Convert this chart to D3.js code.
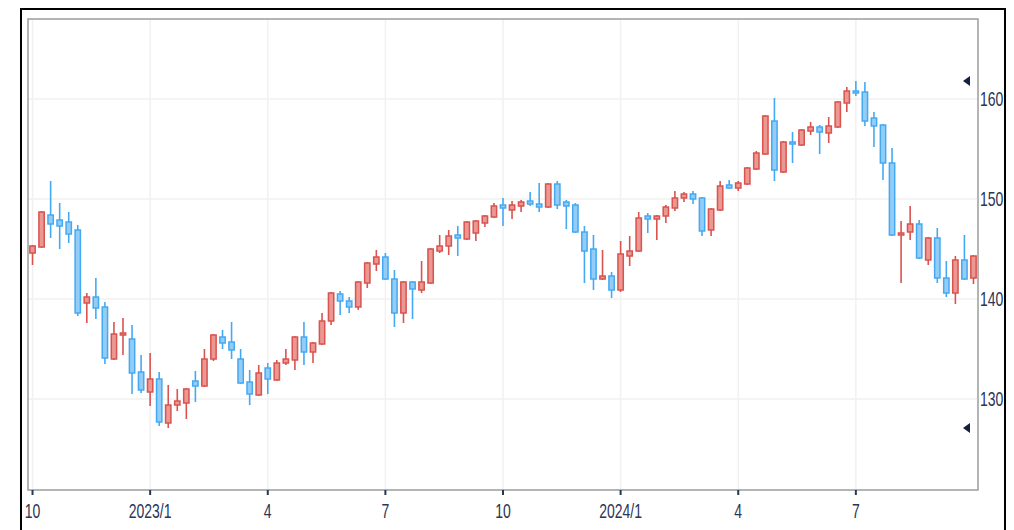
<!DOCTYPE html>
<html>
<head>
<meta charset="utf-8">
<script src="https://cdn.jsdelivr.net/npm/d3@7"></script>
<style>
  body { margin: 0; background: #fff; }
  svg { display: block; }
</style>
</head>
<body>
<div id="chart"></div>
<script>
// weekly candles, Monday of each week
const firstWeek = new Date(2022, 9, 3);
const afterLast = new Date(2024, 9, 1);

const openVals = [144.6,145.2,148.4,147.9,147.7,146.9,139.6,140.2,139.2,134.0,136.4,136.0,132.7,130.7,132.0,127.6,129.4,129.6,131.8,131.3,
  134.0,136.2,135.7,134.0,131.7,130.4,133.1,131.9,133.6,133.9,136.2,134.7,135.5,137.8,140.5,139.8,139.2,141.6,143.5,144.2,
  142.0,138.6,141.7,140.9,141.6,144.8,145.3,146.4,146.0,146.6,147.6,148.2,149.4,148.9,149.3,149.8,149.5,149.2,151.5,149.7,
  149.4,146.7,145.0,142.0,142.3,140.9,144.3,144.8,148.3,148.0,148.3,149.1,150.1,150.5,150.1,146.9,148.9,151.4,151.1,151.5,
  153.0,154.5,157.8,152.7,155.7,155.4,156.8,157.2,156.6,157.2,159.6,160.8,160.7,158.1,157.4,153.6,146.4,146.7,147.5,143.9,
  146.1,142.1,140.6,143.9,142.1];
const highVals = [145.4,148.8,151.8,149.6,148.7,147.4,140.6,142.1,139.7,137.7,138.1,137.4,134.4,134.6,132.7,131.4,131.0,131.1,132.8,135.0,
  136.5,136.9,137.7,135.0,132.9,133.4,133.6,133.9,135.0,136.3,137.7,135.7,138.6,140.7,140.8,140.2,141.8,143.7,144.9,144.6,
  142.9,141.8,141.8,143.8,145.1,146.4,146.9,147.3,147.8,147.9,148.4,149.6,150.1,149.8,149.9,150.7,151.6,151.6,151.8,149.9,
  149.6,147.3,146.4,144.9,142.7,145.8,146.3,148.7,148.6,148.4,149.4,150.8,150.7,150.8,150.2,149.1,151.8,151.9,151.8,153.2,
  154.8,158.4,160.1,155.8,156.7,157.0,157.7,157.4,158.2,159.8,161.2,161.8,161.7,158.7,157.5,155.1,147.8,149.3,147.9,146.2,
  147.1,143.8,144.3,146.4,144.4];
const lowVals = [143.4,145.1,146.1,145.0,145.6,138.3,137.6,138.0,133.5,133.9,134.4,130.5,130.6,129.3,127.3,127.1,128.8,128.0,129.7,131.2,
  133.8,135.0,134.0,131.5,129.4,130.3,130.5,131.8,133.4,132.9,133.4,133.6,135.4,137.4,138.4,138.6,138.9,141.1,142.8,141.9,
  137.2,137.6,138.0,140.6,141.5,144.6,144.4,144.3,145.9,145.8,147.2,148.1,147.3,148.0,148.7,149.3,148.7,149.1,149.0,147.0,
  146.6,141.6,140.9,141.9,140.1,140.7,143.3,144.7,146.6,145.9,147.6,148.8,149.7,149.5,146.3,146.3,148.8,151.0,150.8,151.4,
  152.9,154.4,151.8,152.6,153.6,155.3,156.4,154.5,155.6,157.1,158.7,160.3,157.3,155.2,151.9,146.3,141.6,145.9,144.0,143.4,
  141.6,140.2,139.5,141.9,141.5];
const closeVals = [145.3,148.7,147.5,147.3,146.5,138.6,140.2,139.1,134.1,136.5,136.6,132.6,130.9,132.0,127.7,129.4,129.8,131.0,131.3,134.0,
  136.4,135.6,134.9,131.6,130.5,132.6,132.0,133.6,134.0,136.2,134.7,135.6,137.8,140.6,139.8,139.2,141.7,143.6,144.2,142.0,
  138.6,141.7,141.0,141.7,145.0,145.3,146.3,146.1,147.7,147.8,148.3,149.3,149.1,149.4,149.7,149.5,149.2,151.5,149.4,149.3,
  146.7,144.8,142.0,142.3,140.9,144.5,144.8,148.1,148.0,148.3,149.2,150.1,150.5,150.0,146.8,149.0,151.3,151.1,151.6,153.1,
  154.6,158.3,152.9,155.7,155.5,156.9,157.2,156.7,157.3,159.7,160.8,160.6,157.8,157.3,153.6,146.4,146.6,147.5,144.1,146.1,
  142.1,140.6,143.9,142.0,144.3];

const yTicks = [130, 140, 150, 160];
const tickMonths = [0, 3, 6, 9];
const tickLabels = ["10", "2023/1", "4", "7", "10", "2024/1", "4", "7"];

const W = 1014, H = 530;
const plot = { left: 28, top: 19, right: 978, bottom: 490 };
const upStroke = "#d9534f", upFill = "#eb9792";
const downStroke = "#44a9f3", downFill = "#93cdf6";
const textColor = "#2b3556";

const weeks = d3.timeMonday.range(firstWeek, afterLast);
const candles = weeks.map((d, i) => ({
  date: d, open: openVals[i], high: highVals[i], low: lowVals[i], close: closeVals[i]
}));

const x = d3.scaleBand()
  .domain(weeks)
  .range([plot.left, plot.right])
  .paddingInner(0.3)
  .paddingOuter(0.15);
const cx = d => x(d) + x.bandwidth() / 2;

const y = d3.scaleLinear().domain([121, 168]).range([489, plot.top]);

const svg = d3.select("#chart").append("svg")
  .attr("width", W).attr("height", H)
  .style("font-family", "'Liberation Sans', Arial, sans-serif");

// first candle of each quarter month
const monthTicks = weeks.filter((d, i) =>
  tickMonths.includes(d.getMonth()) && (i === 0 || weeks[i - 1].getMonth() !== d.getMonth()));

// grid
svg.append("g").selectAll("line.h").data(yTicks).join("line")
  .attr("x1", plot.left).attr("x2", plot.right)
  .attr("y1", d => y(d)).attr("y2", d => y(d))
  .attr("stroke", "#f1f1f1").attr("stroke-width", 1.5);
svg.append("g").selectAll("line.v").data(monthTicks).join("line")
  .attr("x1", d => cx(d)).attr("x2", d => cx(d))
  .attr("y1", plot.top).attr("y2", plot.bottom)
  .attr("stroke", "#f1f1f1").attr("stroke-width", 1.5);

// plot border
svg.append("rect")
  .attr("x", plot.left).attr("y", plot.top)
  .attr("width", plot.right - plot.left).attr("height", plot.bottom - plot.top)
  .attr("fill", "none").attr("stroke", "#9c9c9c").attr("stroke-width", 1.5);

// candles
const g = svg.append("g").selectAll("g").data(candles).join("g");
g.append("line")
  .attr("x1", d => cx(d.date)).attr("x2", d => cx(d.date))
  .attr("y1", d => y(d.high)).attr("y2", d => y(d.low))
  .attr("stroke", d => d.close >= d.open ? upStroke : downStroke)
  .attr("stroke-width", 1.6);
g.append("rect")
  .attr("x", d => x(d.date) + 0.5)
  .attr("width", x.bandwidth() - 1)
  .attr("y", d => y(Math.max(d.open, d.close)))
  .attr("height", d => Math.max(1.5, Math.abs(y(d.open) - y(d.close))))
  .attr("fill", d => d.close >= d.open ? upFill : downFill)
  .attr("stroke", d => d.close >= d.open ? upStroke : downStroke)
  .attr("stroke-width", 1.5);

// x axis ticks and labels
svg.append("g").selectAll("line").data(monthTicks).join("line")
  .attr("x1", d => cx(d)).attr("x2", d => cx(d))
  .attr("y1", plot.bottom).attr("y2", plot.bottom + 5)
  .attr("stroke", textColor).attr("stroke-width", 2);
svg.append("g").selectAll("text").data(monthTicks).join("text")
  .attr("transform", d => `translate(${cx(d)},${518}) scale(0.7,1)`)
  .attr("text-anchor", "middle")
  .attr("font-size", 20)
  .attr("fill", textColor)
  .text((d, i) => tickLabels[i]);

// y axis labels on the right
svg.append("g").selectAll("text").data(yTicks).join("text")
  .attr("transform", d => `translate(${plot.right + 2},${y(d) + 7}) scale(0.7,1)`)
  .attr("font-size", 20)
  .attr("fill", textColor)
  .text(d => d);

// markers for highest high / lowest low
const maxHigh = d3.max(candles, d => d.high);
const minLow = d3.min(candles, d => d.low);
svg.append("g").selectAll("path").data([maxHigh, minLow]).join("path")
  .attr("d", d => `M${plot.right - 15},${y(d)} L${plot.right - 8},${y(d) - 5} L${plot.right - 8},${y(d) + 5} Z`)
  .attr("fill", "#13203f");

// outer frame
svg.append("rect")
  .attr("x", 21).attr("y", 9).attr("width", 984).attr("height", 540)
  .attr("fill", "none").attr("stroke", "#000").attr("stroke-width", 2);
</script>
</body>
</html>
